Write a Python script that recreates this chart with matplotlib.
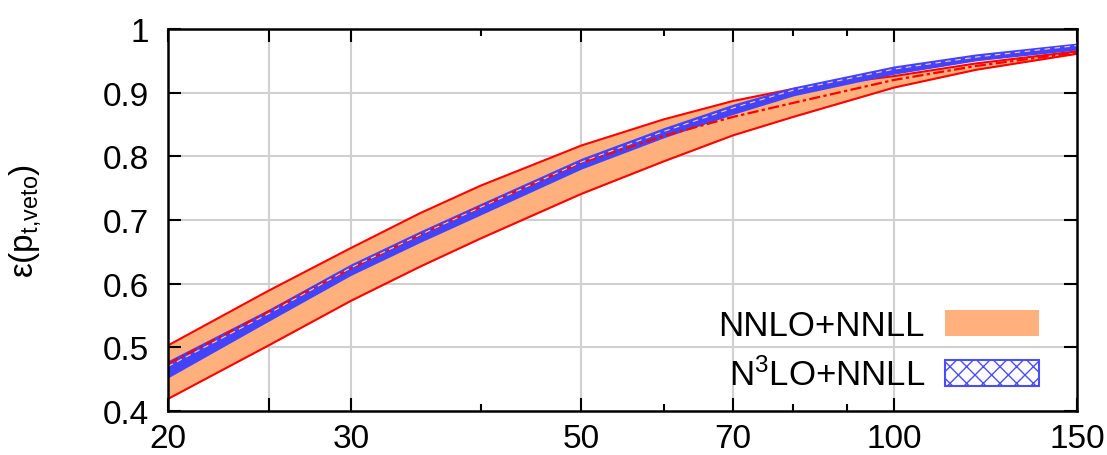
import matplotlib
matplotlib.use("Agg")
import matplotlib.pyplot as plt
from matplotlib.patches import Patch
from matplotlib.ticker import FixedLocator, FixedFormatter, NullFormatter

plt.rcParams['font.family'] = ['Liberation Sans', 'DejaVu Sans']
plt.rcParams['mathtext.fontset'] = 'custom'
plt.rcParams['mathtext.rm'] = 'Liberation Sans'
plt.rcParams['mathtext.default'] = 'regular'
plt.rcParams['hatch.linewidth'] = 1.0

# ---- data ----
ptveto = [20, 25, 30, 35, 40, 50, 60, 70, 80, 100, 120, 150]

nnlo_upper   = [0.503, 0.589, 0.656, 0.711, 0.754, 0.817, 0.858, 0.887, 0.906, 0.926, 0.946, 0.965]
nnlo_central = [0.474, 0.556, 0.624, 0.677, 0.721, 0.790, 0.832, 0.862, 0.884, 0.920, 0.942, 0.963]
nnlo_lower   = [0.419, 0.503, 0.573, 0.627, 0.671, 0.741, 0.792, 0.833, 0.862, 0.908, 0.936, 0.961]

n3lo_upper   = [0.479, 0.560, 0.631, 0.683, 0.726, 0.797, 0.845, 0.882, 0.909, 0.942, 0.961, 0.978]
n3lo_central = [0.470, 0.553, 0.625, 0.677, 0.720, 0.791, 0.839, 0.876, 0.904, 0.937, 0.956, 0.974]
n3lo_lower   = [0.452, 0.541, 0.613, 0.665, 0.708, 0.780, 0.829, 0.866, 0.895, 0.929, 0.950, 0.967]

xtick_major = [20, 25, 30, 50, 70, 100, 150]
xtick_labels = ['20', '', '30', '50', '70', '100', '150']
xtick_minor = [40, 60, 80, 90]
xgrid = [25, 30, 50, 70, 100]
yticks = [0.4, 0.5, 0.6, 0.7, 0.8, 0.9, 1.0]
ytick_labels = ['0.4', '0.5', '0.6', '0.7', '0.8', '0.9', '1']

label_nnlo = 'NNLO+NNLL'
label_n3lo = 'N$^{3}$LO+NNLL'

ORANGE = '#ffb07c'
RED = '#ff0000'
BLUE = '#4343ff'

fig = plt.figure(figsize=(11.07, 4.56), dpi=100)
ax = fig.add_axes([168/1107, 1 - 412/456, (1077-168)/1107, (412-30)/456])

ax.set_xscale('log')
ax.set_xlim(20, 150)
ax.set_ylim(0.4, 1.0)

# grid
for g in xgrid:
    ax.axvline(g, color='#d0d0d0', lw=1.5, zorder=0)
for g in yticks[1:-1]:
    ax.axhline(g, color='#d0d0d0', lw=1.5, zorder=0)

# NNLO+NNLL band
ax.fill_between(ptveto, nnlo_lower, nnlo_upper, color=ORANGE, lw=0, zorder=1)
ax.plot(ptveto, nnlo_upper, color=RED, lw=1.5, zorder=2)
ax.plot(ptveto, nnlo_lower, color=RED, lw=1.5, zorder=2)

# N3LO+NNLL band
ax.fill_between(ptveto, n3lo_lower, n3lo_upper, color=BLUE, lw=0, zorder=3)

# central lines
ax.plot(ptveto, nnlo_central, color=RED, lw=1.6, ls=(0, (5, 1.5, 1.5, 1.5)), zorder=4)
ax.plot(ptveto, n3lo_central, color='#ffc8a8', lw=0.8, ls=(0, (5, 4)), zorder=4)

# ticks
ax.xaxis.set_major_locator(FixedLocator(xtick_major))
ax.xaxis.set_major_formatter(FixedFormatter(xtick_labels))
ax.xaxis.set_minor_locator(FixedLocator(xtick_minor))
ax.xaxis.set_minor_formatter(NullFormatter())
ax.set_yticks(yticks)
ax.set_yticklabels(ytick_labels)
ax.yaxis.set_minor_locator(FixedLocator([]))

ax.tick_params(axis='both', which='major', direction='in', length=9.5, width=1.5,
               top=True, right=True, labelsize=24, colors='black')
ax.tick_params(axis='x', which='major', pad=9)
ax.tick_params(axis='y', which='major', pad=14)
ax.tick_params(axis='x', which='minor', direction='in', length=5, width=1.5, top=True)

for s in ax.spines.values():
    s.set_linewidth(1.8)
    s.set_zorder(6)

ax.set_ylabel(r'ε(p$_{t{,}veto}$)', fontsize=24)
ax.yaxis.set_label_coords(-0.138, 0.5)

handles = [Patch(facecolor=ORANGE, edgecolor='none', label=label_nnlo),
           Patch(facecolor='white', edgecolor='#4c4cff', hatch='xx', lw=1.5, label=label_n3lo)]
leg = ax.legend(handles=handles, loc='lower right', bbox_to_anchor=(0.958, 0.05),
                frameon=False, markerfirst=False, fontsize=25, handlelength=2.7,
                handleheight=0.78, handletextpad=0.58, labelspacing=0.45, borderpad=0,
                borderaxespad=0)
for t in leg.get_texts():
    t.set_ha('right')

fig.savefig('out.png', dpi=100)
